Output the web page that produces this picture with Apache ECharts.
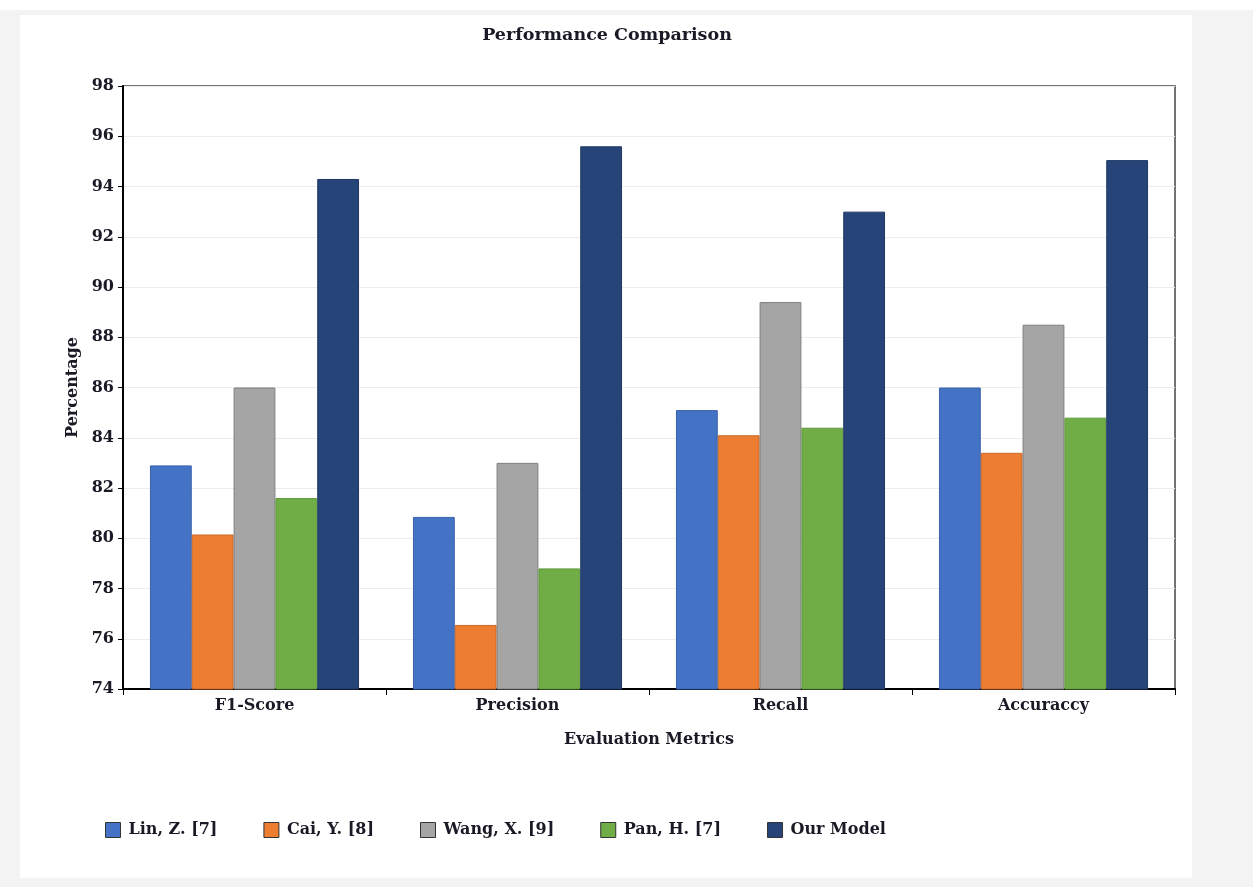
<!DOCTYPE html>
<html>
<head>
<meta charset="utf-8">
<script src="https://cdn.jsdelivr.net/npm/echarts@6/dist/echarts.min.js"></script>
<style>
  html, body { margin: 0; padding: 0; background: #f3f3f3; }
  #topband { position: absolute; left: 0; top: 0; width: 1253px; height: 10px; background: #ffffff; }
  #panel { position: absolute; left: 20px; top: 15px; width: 1172px; height: 863px; background: #ffffff; }
  #chart { position: absolute; left: 0; top: 0; width: 1253px; height: 887px; }
</style>
</head>
<body>
<div id="topband"></div>
<div id="panel"></div>
<div id="chart"></div>
<script>
// Metrics on the x axis
const categories = ['F1-Score', 'Precision', 'Recall', 'Accuraccy'];

// Scores (%) per method
const linZ   = [82.9, 80.85, 85.1, 86.0];
const caiY   = [80.15, 76.55, 84.1, 83.4];
const wangX  = [86.0, 83.0, 89.4, 88.5];
const panH   = [81.6, 78.8, 84.4, 84.8];
const ours   = [94.3, 95.6, 93.0, 95.05];

const seriesNames = ['Lin, Z. [7]', 'Cai, Y. [8]', 'Wang, X. [9]', 'Pan, H. [7]', 'Our Model'];
const seriesData = [linZ, caiY, wangX, panH, ours];
const fills = ['#4472c4', '#ed7d31', '#a5a5a5', '#70ad47', '#264478'];
const edges = ['#3a62ab', '#c96a2a', '#7f7f7f', '#5f9a3c', '#1f3863'];

const font = 'DejaVu Serif, serif';
const ink = '#1a1a26';

const chart = echarts.init(document.getElementById('chart'), null, { renderer: 'canvas' });

chart.setOption({
  backgroundColor: 'transparent',
  animation: false,
  title: {
    text: 'Performance Comparison',
    left: 602, top: 21, textAlign: 'center',
    textStyle: { fontFamily: font, fontWeight: 'bold', fontSize: 17.5, color: ink }
  },
  legend: {
    left: 100, top: 817,
    itemWidth: 15, itemHeight: 15, itemGap: 46,
    icon: 'rect',
    itemStyle: { borderColor: '#333', borderWidth: 1 },
    textStyle: { fontFamily: font, fontWeight: 'bold', fontSize: 16, color: ink, padding: [0, 0, 0, 3] },
    data: seriesNames
  },
  grid: {
    left: 123, right: 78, top: 86, bottom: 198,
    show: true, borderColor: '#444', borderWidth: 1.5, backgroundColor: 'transparent'
  },
  xAxis: {
    type: 'category',
    data: categories,
    name: 'Evaluation Metrics',
    nameLocation: 'middle',
    nameGap: 43,
    nameTextStyle: { fontFamily: font, fontWeight: 'bold', fontSize: 16, color: ink },
    axisLine: { lineStyle: { color: '#000', width: 2 } },
    axisTick: { show: true, length: 6, lineStyle: { color: '#000', width: 1 } },
    axisLabel: { fontFamily: font, fontWeight: 'bold', fontSize: 16, color: ink, margin: 9 }
  },
  yAxis: {
    type: 'value',
    min: 74, max: 98, interval: 2,
    name: 'Percentage',
    nameLocation: 'middle',
    nameGap: 42,
    nameRotate: 90,
    nameTextStyle: { fontFamily: font, fontWeight: 'bold', fontSize: 16, color: ink },
    axisLine: { show: true, lineStyle: { color: '#000', width: 2 } },
    axisTick: { show: true, length: 5, lineStyle: { color: '#000', width: 1 } },
    axisLabel: { fontFamily: font, fontWeight: 'bold', fontSize: 16, color: ink, margin: 9 },
    splitLine: { show: true, lineStyle: { color: '#ececec', width: 1 } }
  },
  series: seriesNames.map((name, i) => ({
    name,
    type: 'bar',
    data: seriesData[i],
    barGap: '0%',
    barCategoryGap: '20.5%',
    itemStyle: { color: fills[i], borderColor: edges[i], borderWidth: 1 }
  }))
});
</script>
</body>
</html>
